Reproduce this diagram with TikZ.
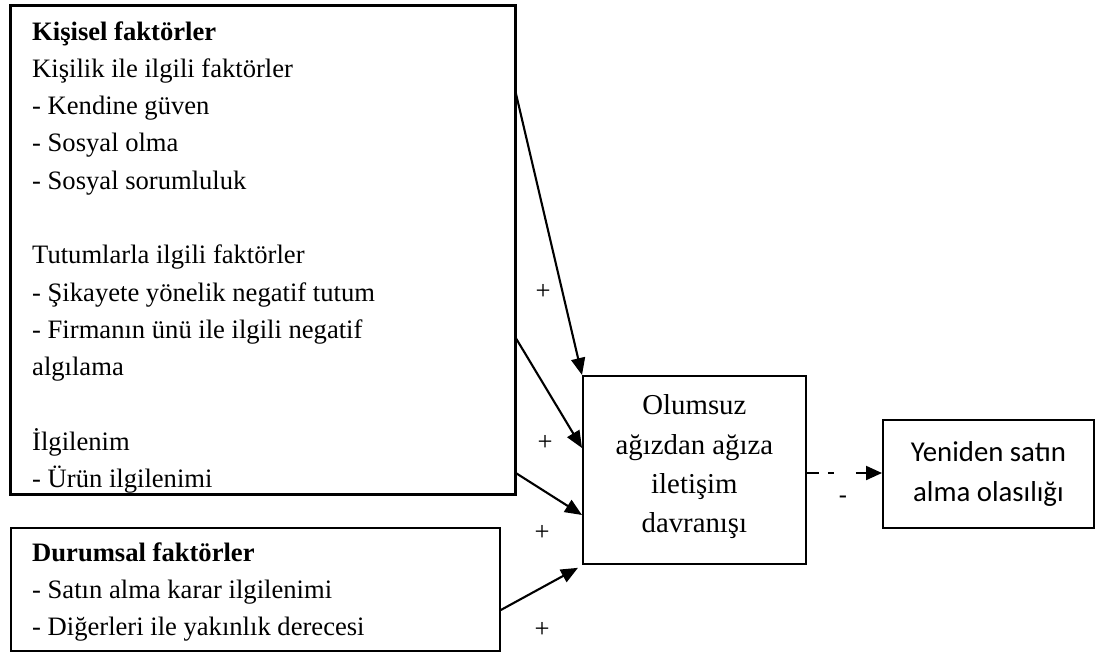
\documentclass[tikz,border=0pt]{standalone}
\usepackage{fontspec}
\setmainfont{Liberation Serif}
\newfontfamily\sanslabel{Carlito}
\usetikzlibrary{arrows.meta,calc}
\begin{document}
\begin{tikzpicture}[x=1pt,y=-1pt,
  frame/.style={draw, line width=1.8pt, inner sep=0pt},
  flow/.style={line width=2.1pt, -{Triangle[length=17pt,width=14pt]}},
  body/.style={font=\fontsize{26.6}{37.3}\selectfont, inner sep=0pt},
  sign/.style={font=\fontsize{26.6}{30}\selectfont, inner sep=0pt}]
\useasboundingbox (0,0) rectangle (1099,659);

% frames
\node[frame, minimum width=504pt, minimum height=488pt, anchor=north west] (personal) at (10,5) {};
\node[frame, minimum width=489pt, minimum height=123pt, anchor=north west] (situational) at (10,527) {};
\node[frame, minimum width=223pt, minimum height=188pt, anchor=north west] (nwom) at (582,375) {};
\node[align=center, inner sep=0pt, font=\fontsize{28.8}{39.3}\selectfont] (nwomtext)
      at ($(nwom.center)+(0,-3)$) {Olumsuz\\ağızdan ağıza\\iletişim\\davranışı};
\node[frame, minimum width=211pt, minimum height=108pt, anchor=north west] (repurchase) at (882,419) {};
\node[align=center, inner sep=0pt, font=\sanslabel\fontsize{28.8}{40}\selectfont] (repurchasetext)
      at (repurchase.center) {Yeniden satın\\alma olasılığı};

% personal factors, clipped to their frame
\begin{scope}
  \clip (personal.north west) rectangle (personal.south east);
  \foreach \k/\t in {0/{\textbf{Kişisel faktörler}},
                     1/{Kişilik ile ilgili faktörler},
                     2/{- Kendine güven},
                     3/{- Sosyal olma},
                     4/{- Sosyal sorumluluk},
                     6/{Tutumlarla ilgili faktörler},
                     7/{- Şikayete yönelik negatif tutum},
                     8/{- Firmanın ünü ile ilgili negatif},
                     9/{algılama},
                     11/{İlgilenim},
                     12/{- Ürün ilgilenimi}}
    \node[body, anchor=base west] (pl\k) at (32,40+37.3*\k) {\t};
\end{scope}
\draw[line width=1.8pt] (personal.north west) rectangle (personal.south east);

% situational factors
\foreach \k/\t in {0/{\textbf{Durumsal faktörler}},
                   1/{- Satın alma karar ilgilenimi},
                   2/{- Diğerleri ile yakınlık derecesi}}
  \node[body, anchor=base west] (sl\k) at (32,561+37.3*\k) {\t};

% influences on negative word of mouth
\draw[flow] (personal.east |- 0,93)  -- (nwom.north west);
\draw[flow] (personal.east |- 0,338) -- (nwom.west |- 0,448);
\draw[flow] (personal.east |- 0,473) -- (nwom.west |- 0,515);
\draw[flow] (situational.east |- 0,610) -- ($(nwom.south west)+(-4,3)$);

\node[sign] (s1) at (543,292) {+};
\node[sign] (s2) at (545,443) {+};
\node[sign] (s3) at (542,533) {+};
\node[sign] (s4) at (542,630) {+};

% effect on repurchase intention
\draw[line width=2.1pt, dash pattern=on 12pt off 9pt on 6pt off 22pt on 80pt,
      -{Triangle[length=16pt,width=14pt]}]
  (nwom.east |- 0,473) -- (repurchase.west |- 0,473);
\node[font=\sanslabel\fontsize{26.6}{30}\selectfont, inner sep=0pt] (neg) at (843,500) {-};
\end{tikzpicture}
\end{document}
